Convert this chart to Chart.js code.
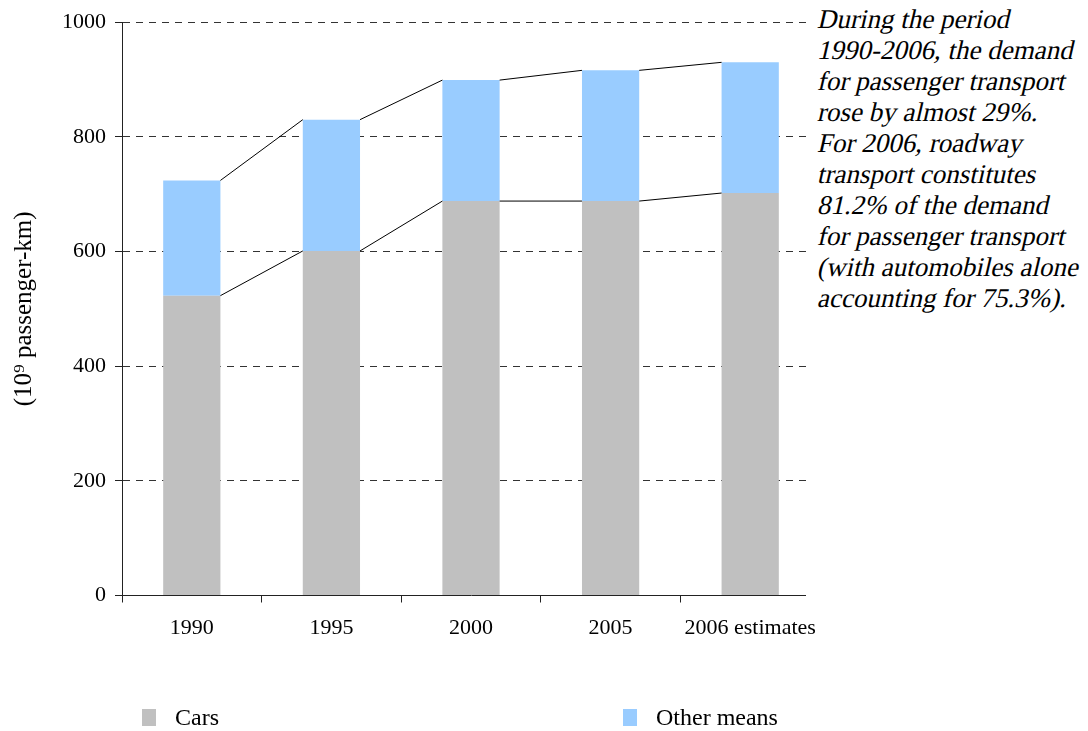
<!DOCTYPE html>
<html>
<head>
<meta charset="utf-8">
<script src="https://cdn.jsdelivr.net/npm/chart.js@4.4.1/dist/chart.umd.min.js"></script>
<style>
  html, body { margin: 0; padding: 0; background: #fff; }
  #wrap { position: relative; width: 1088px; height: 731px; overflow: hidden; }
  #chart { position: absolute; left: 0; top: 0; }
  #note {
    position: absolute; left: 806px; top: 0; width: 282px; height: 606px;
    background: #fff; box-sizing: border-box; padding: 4px 0 0 11px;
    font-family: "Liberation Serif", "Times New Roman", serif; font-style: normal;
    font-size: 27px; line-height: 31px; color: #000; white-space: nowrap;
  }
  /* slanted serif lettering for the side note, one line at a time */
  #note .line { display: block; transform: skewX(-13deg); transform-origin: 0 75%; }
  .legend-item { position: absolute; top: 704px; height: 26px; display: flex; align-items: center;
    font-family: "Liberation Serif", "Times New Roman", serif; font-size: 24px; color: #000; }
  .swatch { display: inline-block; width: 14px; height: 17px; margin-right: 19px; }
</style>
</head>
<body>
<div id="wrap">
  <canvas id="chart" width="1088" height="731"></canvas>
  <div id="note">
    <span class="line">During the period</span>
    <span class="line">1990-2006, the demand</span>
    <span class="line">for passenger transport</span>
    <span class="line">rose by almost 29%.</span>
    <span class="line">For 2006, roadway</span>
    <span class="line">transport constitutes</span>
    <span class="line">81.2% of the demand</span>
    <span class="line">for passenger transport</span>
    <span class="line">(with automobiles alone</span>
    <span class="line">accounting for 75.3%).</span>
  </div>
  <div id="legend"></div>
</div>
<script>
// Passenger transport demand, 10^9 passenger-km
const categories = ['1990', '1995', '2000', '2005', '2006 estimates'];
const carsValues = [523, 601, 688, 688, 702];
const otherValues = [201, 229, 211, 228, 228];
const yTicks = [0, 200, 400, 600, 800, 1000];
const seriesNames = ['Cars', 'Other means'];
const seriesColors = ['#C0C0C0', '#99CCFF'];

const serif = '"Liberation Serif", "Times New Roman", serif';

// Thin lines joining the tops of each stacked segment from bar to bar
const connectorPlugin = {
  id: 'connectors',
  afterDatasetsDraw(chart) {
    const ctx = chart.ctx;
    ctx.save();
    ctx.strokeStyle = '#000';
    ctx.lineWidth = 1;
    chart.data.datasets.forEach((ds, di) => {
      const meta = chart.getDatasetMeta(di);
      for (let i = 0; i < meta.data.length - 1; i++) {
        const a = meta.data[i], b = meta.data[i + 1];
        ctx.beginPath();
        ctx.moveTo(a.x + a.width / 2, a.y);
        ctx.lineTo(b.x - b.width / 2, b.y);
        ctx.stroke();
      }
    });
    ctx.restore();
  }
};

new Chart(document.getElementById('chart'), {
  type: 'bar',
  data: {
    labels: categories,
    datasets: [
      { label: seriesNames[0], data: carsValues, backgroundColor: seriesColors[0], borderWidth: 0 },
      { label: seriesNames[1], data: otherValues, backgroundColor: seriesColors[1], borderWidth: 0 }
    ]
  },
  options: {
    responsive: false,
    animation: false,
    devicePixelRatio: 1,
    layout: { padding: { left: 0, right: 268, top: 22, bottom: 0 } },
    datasets: { bar: { categoryPercentage: 1, barPercentage: 0.41 } },
    plugins: { legend: { display: false }, tooltip: { enabled: false } },
    scales: {
      x: {
        stacked: true,
        afterFit(scale) { scale.height = 135.5; },
        grid: { offset: true, drawOnChartArea: false, tickLength: 7, color: '#222' },
        border: { color: '#222', width: 1 },
        ticks: { color: '#000', padding: 13, maxRotation: 0, autoSkip: false, font: { family: serif, size: 22 } }
      },
      y: {
        stacked: true,
        min: 0, max: 1000,
        afterFit(scale) { scale.width = 122; },
        afterBuildTicks(scale) { scale.ticks = yTicks.map(v => ({ value: v })); },
        grid: { color: '#333', lineWidth: 1, tickLength: 7, tickColor: '#222' },
        border: { color: '#222', width: 1, dash: [7, 6] },
        ticks: { color: '#000', padding: 9, font: { family: serif, size: 22 }, callback: v => String(v) },
        title: {
          display: true, text: '(10\u2079 passenger-km)', color: '#000',
          font: { family: serif, size: 25 }, padding: { top: 9, bottom: 0 }
        }
      }
    }
  },
  plugins: [connectorPlugin]
});

// Legend entries placed under the axis
const legendPos = [142, 623];
const legend = document.getElementById('legend');
seriesNames.forEach((name, i) => {
  const item = document.createElement('div');
  item.className = 'legend-item';
  item.style.left = legendPos[i] + 'px';
  const sw = document.createElement('span');
  sw.className = 'swatch';
  sw.style.background = seriesColors[i];
  item.appendChild(sw);
  item.appendChild(document.createTextNode(name));
  legend.appendChild(item);
});
</script>
</body>
</html>
